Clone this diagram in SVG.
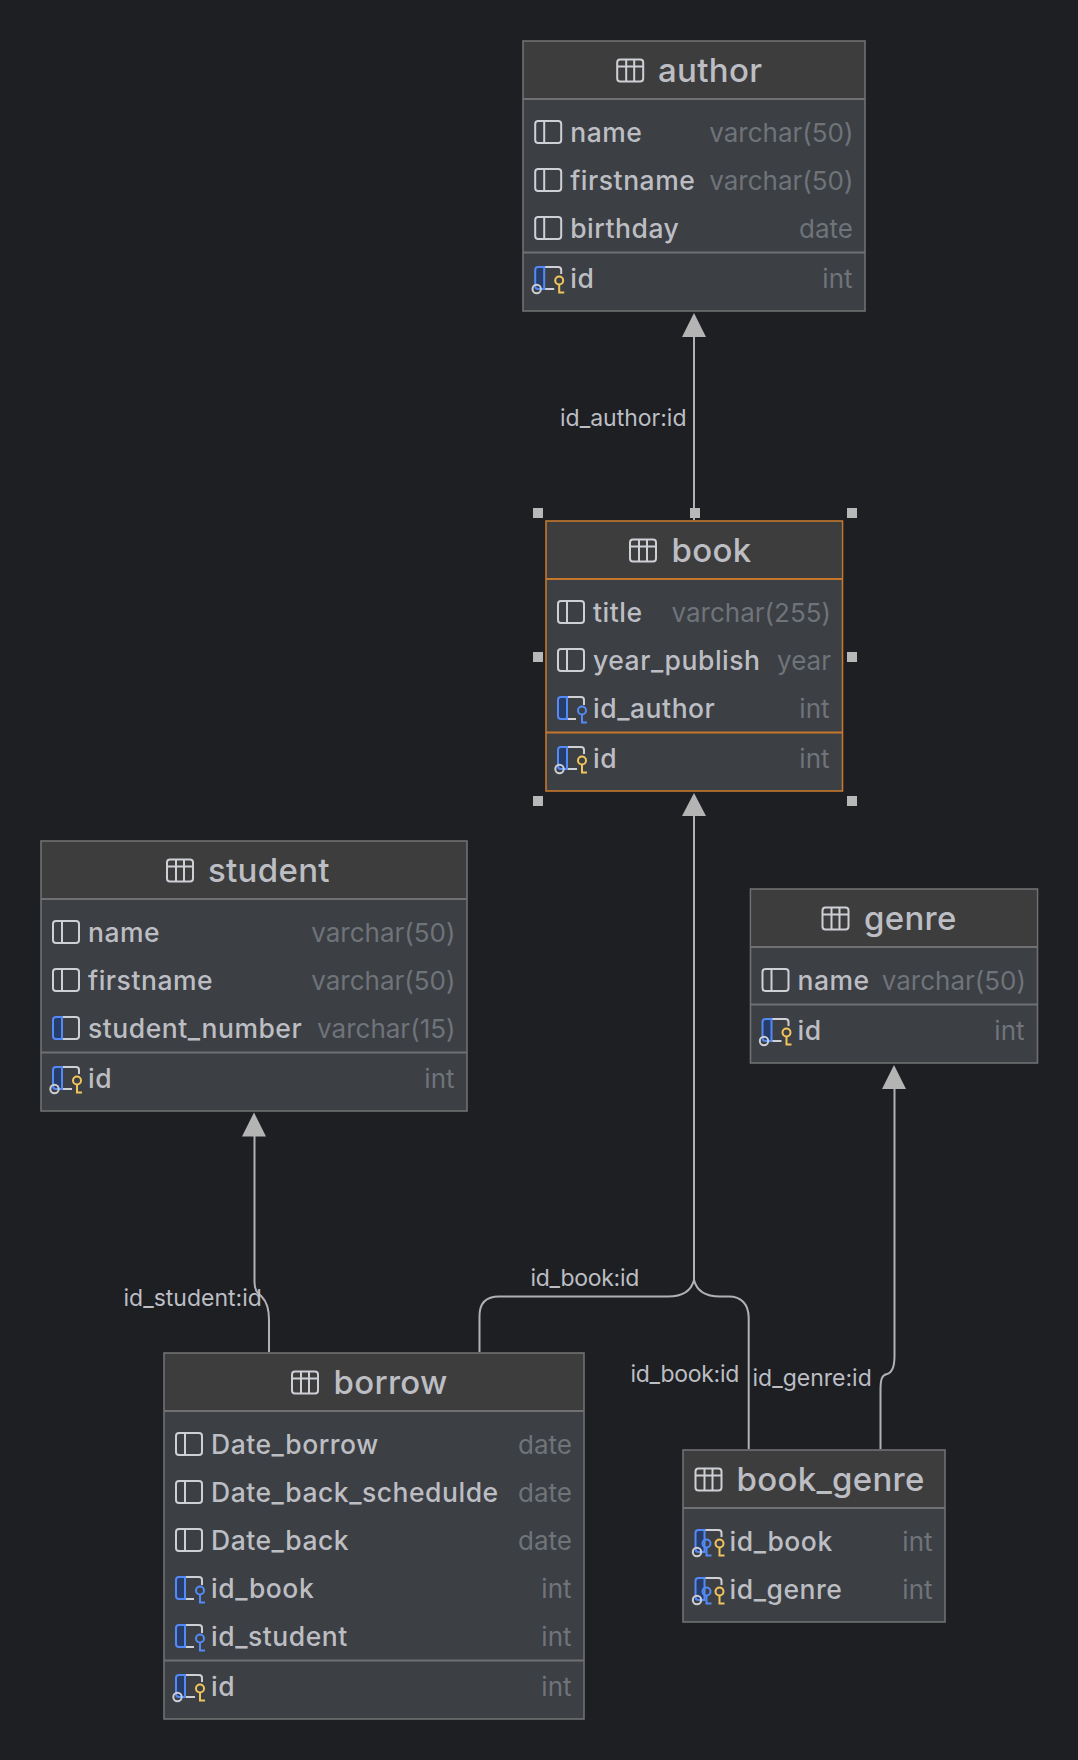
<svg xmlns="http://www.w3.org/2000/svg" width="1078" height="1760" viewBox="0 0 1078 1760">
<style>
text{font-family:Inter,"Noto Sans","Liberation Sans",sans-serif}
.box{fill:#3c3f43;stroke:#6f7072;stroke-width:1.600}
.sel .box{stroke:#c4772d}
.hd{fill:#3d3d3d}
.sep{stroke:#6f7072;stroke-width:2}
.sel .sep{stroke:#c4772d}
.title{font-size:33px;font-weight:500;fill:#bcbec4;letter-spacing:.3px}
.col{font-size:26.500px;font-weight:500;fill:#bcbec4;letter-spacing:.52px}
.typ{font-size:26px;fill:#6f737a;text-anchor:end}
.lbl{font-size:23px;fill:#bcbec4}
.tight{letter-spacing:-.3px}
.conn{fill:none;stroke:#b0b1b3;stroke-width:2}
.ah{fill:#b4b4b4}
.hdl{fill:#b8b8b8}
.ic{fill:none;stroke:#ced0d6;stroke-width:2}
.bl{fill:none;stroke:#548af7;stroke-width:2}
.ye{fill:none;stroke:#f2c55c;stroke-width:2}
</style>
<defs>
<g id="i-table"><rect x="1" y="1" width="26" height="22" rx="3" fill="#43454a" class="ic"/><path d="M1 8H27M10 1V23M18 1V23" class="ic"/></g>
<g id="i-col"><rect x="1" y="1" width="26" height="22" rx="3" class="ic"/><path d="M10 1V23" class="ic"/></g>
<g id="bluecol"><path d="M10 1H4a3 3 0 0 0-3 3V20a3 3 0 0 0 3 3H10Z" fill="#263c69" stroke="#548af7" stroke-width="2"/></g>
<g id="i-colblue"><path d="M10 1H24a3 3 0 0 1 3 3V20a3 3 0 0 1-3 3H10" class="ic"/><use href="#bluecol"/></g>
<g id="k-blue"><circle cx="25" cy="14.500" r="4" class="bl"/><path d="M25 18.500V27.500M25 26.500H30" class="bl"/></g>
<g id="k-yel"><circle cx="25" cy="14.500" r="4" class="ye"/><path d="M25 18.500V27.500M25 26.500H30" class="ye"/></g>
<g id="i-fk"><path d="M10 1H24a3 3 0 0 1 3 3V9M10 23H19" class="ic"/><use href="#bluecol"/><use href="#k-blue"/></g>
<g id="i-pk"><path d="M10 1H24a3 3 0 0 1 3 3V8M10 23H20" class="ic"/><use href="#bluecol"/><circle cx="2.500" cy="23" r="4.200" fill="#3c3f43" class="ic"/><use href="#k-yel"/></g>
<g id="i-pf"><path d="M10 1H24a3 3 0 0 1 3 3V8" class="ic"/><use href="#bluecol"/><circle cx="2.500" cy="23" r="4.200" fill="#3c3f43" class="ic"/><circle cx="12" cy="14.500" r="4" class="bl"/><path d="M12 18.500V27.500M12 26.500H17" class="bl"/><use href="#k-yel"/></g>
</defs>
<rect width="1078" height="1760" fill="#1e1f22"/>
<g id="connectors">
<path class="conn" d="M694 520V337"/><path class="ah" d="M694 313L682 337H706Z"/>
<path class="conn" d="M694 1280V816"/><path class="ah" d="M694 793L682 816H706Z"/>
<path class="conn" d="M694 1280C691 1292 682 1296.500 668 1296.500H499C486 1296.500 479.500 1303 479.500 1316V1352"/>
<path class="conn" d="M694 1280C697 1292 706 1296.500 720 1296.500H729C741 1296.500 748.700 1304 748.700 1318V1449"/>
<path class="conn" d="M894.500 1088V1356C894.500 1368 891 1373 887 1374C882 1375 880.500 1379 880.500 1390V1449"/><path class="ah" d="M894 1065L882 1089H906Z"/>
<path class="conn" d="M254.500 1136V1282C254.500 1292 259 1294 262 1297C267 1302 269 1309 269 1320V1352"/><path class="ah" d="M254 1112.500L242 1136.500H266Z"/>
<g id="connector-labels">
<text class="lbl" x="560" y="426">id_author:id</text>
<text class="lbl" x="123.500" y="1306">id_student:id</text>
<text class="lbl tight" x="530.500" y="1286">id_book:id</text>
<text class="lbl tight" x="630.500" y="1382">id_book:id</text>
<text class="lbl" x="752.500" y="1386">id_genre:id</text>
</g>
</g>
<g id="author">
<rect class="box" x="523" y="41" width="342" height="270"/><rect class="hd" x="524" y="42" width="340" height="57"/>
<path class="sep" d="M523 99H865M523 252.500H865"/>
<use href="#i-table" x="616.200" y="58.500"/><text class="title" x="658" y="82">author</text>
<use href="#i-col" x="534.200" y="120"/><text class="col" x="570.200" y="142">name</text><text class="typ" x="853.500" y="142">varchar(50)</text>
<use href="#i-col" x="534.200" y="168"/><text class="col" x="570.200" y="190">firstname</text><text class="typ" x="853.500" y="190">varchar(50)</text>
<use href="#i-col" x="534.200" y="216"/><text class="col" x="570.200" y="238">birthday</text><text class="typ" x="853" y="238">date</text>
<use href="#i-pk" x="534.200" y="266"/><text class="col" x="570.200" y="288">id</text><text class="typ" x="852.500" y="288">int</text>
</g>
<g id="book" class="sel">
<rect class="box" x="546" y="521" width="296.500" height="270"/><rect class="hd" x="547" y="522" width="294.500" height="57"/>
<path class="sep" d="M546 579H842.500M546 732.500H842.500"/>
<use href="#i-table" x="629" y="538.500"/><text class="title" x="671.500" y="562">book</text>
<use href="#i-col" x="557" y="600"/><text class="col" x="593" y="622">title</text><text class="typ" x="831" y="622">varchar(255)</text>
<use href="#i-col" x="557" y="648"/><text class="col" x="593" y="670">year_publish</text><text class="typ" x="831" y="670">year</text>
<use href="#i-fk" x="557" y="696"/><text class="col" x="593" y="718">id_author</text><text class="typ" x="829.500" y="718">int</text>
<use href="#i-pk" x="557" y="746"/><text class="col" x="593" y="768">id</text><text class="typ" x="829.500" y="768">int</text>
</g>
<g id="selection-handles" class="hdl">
<rect x="533" y="508" width="10" height="10"/><rect x="690" y="508" width="10" height="10"/><rect x="847" y="508" width="10" height="10"/>
<rect x="533" y="652" width="10" height="10"/><rect x="847" y="652" width="10" height="10"/>
<rect x="533" y="796" width="10" height="10"/><rect x="847" y="796" width="10" height="10"/>
</g>
<g id="student">
<rect class="box" x="41" y="841" width="426" height="270"/><rect class="hd" x="42" y="842" width="424" height="57"/>
<path class="sep" d="M41 899H467M41 1052.500H467"/>
<use href="#i-table" x="166" y="858.500"/><text class="title" x="208" y="882">student</text>
<use href="#i-col" x="52" y="920"/><text class="col" x="88" y="942">name</text><text class="typ" x="455.500" y="942">varchar(50)</text>
<use href="#i-col" x="52" y="968"/><text class="col" x="88" y="990">firstname</text><text class="typ" x="455.500" y="990">varchar(50)</text>
<use href="#i-colblue" x="52" y="1016"/><text class="col" x="88" y="1038">student_number</text><text class="typ" x="455.500" y="1038">varchar(15)</text>
<use href="#i-pk" x="52" y="1066"/><text class="col" x="88" y="1088">id</text><text class="typ" x="454.500" y="1088">int</text>
</g>
<g id="genre">
<rect class="box" x="750.500" y="889" width="287" height="174"/><rect class="hd" x="751.500" y="890" width="285" height="57"/>
<path class="sep" d="M750.500 947H1037.500M750.500 1004.500H1037.500"/>
<use href="#i-table" x="821.500" y="906.500"/><text class="title" x="864" y="930">genre</text>
<use href="#i-col" x="761.500" y="968"/><text class="col" x="797.500" y="990">name</text><text class="typ" x="1026" y="990">varchar(50)</text>
<use href="#i-pk" x="761.500" y="1018"/><text class="col" x="797.500" y="1040">id</text><text class="typ" x="1024.500" y="1040">int</text>
</g>
<g id="borrow">
<rect class="box" x="164" y="1353" width="420" height="366"/><rect class="hd" x="165" y="1354" width="418" height="57"/>
<path class="sep" d="M164 1411H584M164 1660.500H584"/>
<use href="#i-table" x="291" y="1370.500"/><text class="title" x="333.500" y="1394">borrow</text>
<use href="#i-col" x="175" y="1432"/><text class="col" x="211" y="1454">Date_borrow</text><text class="typ" x="572" y="1454">date</text>
<use href="#i-col" x="175" y="1480"/><text class="col" x="211" y="1502">Date_back_schedulde</text><text class="typ" x="572" y="1502">date</text>
<use href="#i-col" x="175" y="1528"/><text class="col" x="211" y="1550">Date_back</text><text class="typ" x="572" y="1550">date</text>
<use href="#i-fk" x="175" y="1576"/><text class="col" x="211" y="1598">id_book</text><text class="typ" x="571.500" y="1598">int</text>
<use href="#i-fk" x="175" y="1624"/><text class="col" x="211" y="1646">id_student</text><text class="typ" x="571.500" y="1646">int</text>
<use href="#i-pk" x="175" y="1674"/><text class="col" x="211" y="1696">id</text><text class="typ" x="571.500" y="1696">int</text>
</g>
<g id="book_genre">
<rect class="box" x="683" y="1450" width="262" height="172"/><rect class="hd" x="684" y="1451" width="260" height="57"/>
<path class="sep" d="M683 1508H945"/>
<use href="#i-table" x="694.500" y="1467.500"/><text class="title" x="736.500" y="1491">book_genre</text>
<use href="#i-pf" x="694.500" y="1529"/><text class="col" x="729.500" y="1551">id_book</text><text class="typ" x="932.500" y="1551">int</text>
<use href="#i-pf" x="694.500" y="1577"/><text class="col" x="729.500" y="1599">id_genre</text><text class="typ" x="932.500" y="1599">int</text>
</g>
</svg>
